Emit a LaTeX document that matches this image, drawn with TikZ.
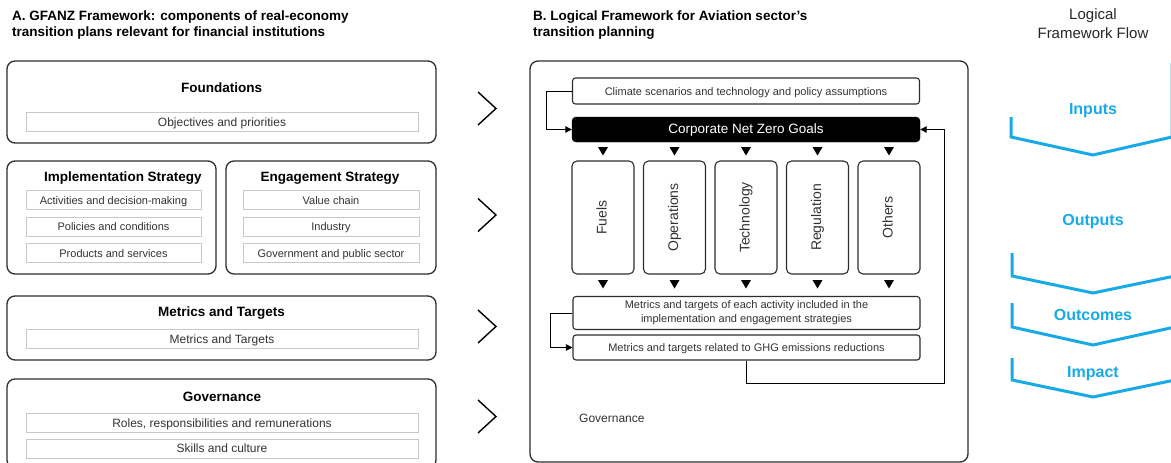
\documentclass[tikz,border=0pt]{standalone}
\usepackage{fontspec}
\setmainfont{Liberation Sans}
\usetikzlibrary{arrows.meta}
\definecolor{flow}{RGB}{24,170,230}
\definecolor{frame}{RGB}{45,45,45}
\definecolor{innerline}{RGB}{200,200,200}
\definecolor{innertext}{RGB}{50,50,50}
\begin{document}
\begin{tikzpicture}[x=1pt,y=-1pt,
  ttl/.style={font=\bfseries\fontsize{13.5}{16}\selectfont, inner sep=0pt, align=left, text=black},
  hd/.style={font=\bfseries\fontsize{13.5}{16}\selectfont, inner sep=0pt, text height=0.8em, text depth=0pt, text=black},
  bigbox/.style={draw=frame, line width=1.3pt, rounded corners=8pt, inner sep=0pt},
  subbox/.style={draw=innerline, line width=1pt, inner sep=0pt, text height=0.8em, text depth=0pt, text=innertext},
  wide/.style={subbox, font=\fontsize{12}{14}\selectfont, minimum width=392, minimum height=19},
  narrow/.style={subbox, font=\fontsize{11}{13}\selectfont, minimum height=19},
  lbox/.style={draw=frame, line width=1.1pt, rounded corners=3pt, inner sep=0pt, minimum width=347, font=\fontsize{11}{14}\selectfont, text=innertext},
  actbox/.style={draw=frame, line width=1.1pt, rounded corners=5pt, inner sep=0pt, minimum width=113, minimum height=62, font=\fontsize{14}{16}\selectfont, text height=0.716em, text depth=0pt, text=innertext},
  arr/.style={draw=black, line width=1pt, -{Triangle[length=6.5pt,width=6.5pt]}},
  gt/.style={draw=black, line width=1.4pt},
  flowline/.style={draw=flow, line width=3pt},
  flowlbl/.style={font=\bfseries\fontsize{16}{18}\selectfont, text=flow, inner sep=0pt, text height=0.716em, text depth=0pt}
]
\useasboundingbox (0,0) rectangle (1171,463);
\clip (0,0) rectangle (1171,463);

% ---------- Panel A ----------
\node[ttl, anchor=north west] (tA) at (12,10.5) {A. GFANZ Framework: components of real-economy\\transition plans relevant for financial institutions};

\node[bigbox, minimum width=429, minimum height=82] (found) at (221.5,102) {};
\node[hd] (foundT) at (221.5,88) {Foundations};
\node[wide] (obj) at (222,122) {Objectives and priorities};

\node[bigbox, minimum width=209, minimum height=113] (impl) at (111.5,217.5) {};
\node[hd] (implT) at (123,177) {Implementation Strategy};
\node[narrow, minimum width=175] (i1) at (113.5,200) {Activities and decision-making};
\node[narrow, minimum width=175] (i2) at (113.5,226.5) {Policies and conditions};
\node[narrow, minimum width=175] (i3) at (113.5,253) {Products and services};

\node[bigbox, minimum width=210, minimum height=113] (eng) at (331,217.5) {};
\node[hd] (engT) at (330,177) {Engagement Strategy};
\node[narrow, minimum width=176] (e1) at (331,200) {Value chain};
\node[narrow, minimum width=176] (e2) at (331,226.5) {Industry};
\node[narrow, minimum width=176] (e3) at (331,253) {Government and public sector};

\node[bigbox, minimum width=429, minimum height=64] (met) at (221.5,328) {};
\node[hd] (metT) at (221.5,312) {Metrics and Targets};
\node[wide] (m1) at (222,339) {Metrics and Targets};

\node[bigbox, minimum width=429, minimum height=89] (gov) at (221.5,423.5) {};
\node[hd] (govT) at (222,397) {Governance};
\node[wide] (g1) at (222,423) {Roles, responsibilities and remunerations};
\node[wide] (g2) at (222,448.5) {Skills and culture};

% chevrons between panels
\foreach \cy in {108.5,215,326.5,416.5}{
  \draw[gt] (478,\cy-16.5) -- (496,\cy) -- (478,\cy+16.5);
}

% ---------- Panel B ----------
\node[ttl, anchor=north west] (tB) at (533,10.5) {B. Logical Framework for Aviation sector's\\transition planning};

\node[bigbox, minimum width=438, minimum height=401] (frameB) at (749,261.5) {};
\node[lbox, minimum height=26, text height=0.8em, text depth=0pt] (clim) at (746,91) {Climate scenarios and technology and policy assumptions};
\node[draw=black, fill=black, rounded corners=4pt, inner sep=0pt, minimum width=348, minimum height=25, font=\fontsize{13.5}{16}\selectfont, text=white, text height=0.8em, text depth=0pt] (goal) at (746,129.5) {Corporate Net Zero Goals};

\node[actbox, rotate=90] (fuels) at (603,217.5) {Fuels};
\node[actbox, rotate=90] (ops) at (674.5,217.5) {Operations};
\node[actbox, rotate=90] (tech) at (746,217.5) {Technology};
\node[actbox, rotate=90] (reg) at (817.5,217.5) {Regulation};
\node[actbox, rotate=90] (oth) at (889,217.5) {Others};

\foreach \tx in {603,674.5,746,817.5,889}{
  \fill[black] (\tx-5,147) -- (\tx+5,147) -- (\tx,155.5) -- cycle;
  \fill[black] (\tx-5,280) -- (\tx+5,280) -- (\tx,288.5) -- cycle;
}

\node[lbox, minimum height=33, align=center] (mact) at (746.5,313) {Metrics and targets of each activity included in the\\implementation and engagement strategies};
\node[lbox, minimum height=25, text height=0.8em, text depth=0pt] (ghg) at (746.5,347.5) {Metrics and targets related to GHG emissions reductions};

\draw[arr] (clim.west) -- ++(-25,0) |- (goal.west);
\draw[arr] (mact.west) -- ++(-22,0) |- (ghg.west);
\draw[arr] (ghg.south) -- ++(0,23) -| ([xshift=24pt]goal.east) -- (goal.east);

\node[font=\fontsize{12}{14}\selectfont, text=innertext, anchor=west, inner sep=0pt, text height=0.8em, text depth=0pt] (govB) at (579,418) {Governance};

% ---------- Panel C ----------
\node[font=\fontsize{15}{19.5}\selectfont, align=center, anchor=north, inner sep=0pt, text=black!85] (tC) at (1093,8) {Logical\\Framework Flow};

\draw[flowline] (1011,117) -- (1011,137) -- (1093,155) -- (1172,137) -- (1172,63);
\draw[flowline] (1012,253) -- (1012,276) -- (1093,293) -- (1175,276);
\draw[flowline] (1012,303) -- (1012,327) -- (1093,345) -- (1175,327);
\draw[flowline] (1012,358) -- (1012,380) -- (1093,397) -- (1175,380);

\node[flowlbl] (inp) at (1093,111) {Inputs};
\node[flowlbl] (outp) at (1093,222) {Outputs};
\node[flowlbl] (outc) at (1093,317) {Outcomes};
\node[flowlbl] (imp) at (1093,374) {Impact};
\end{tikzpicture}
\end{document}
